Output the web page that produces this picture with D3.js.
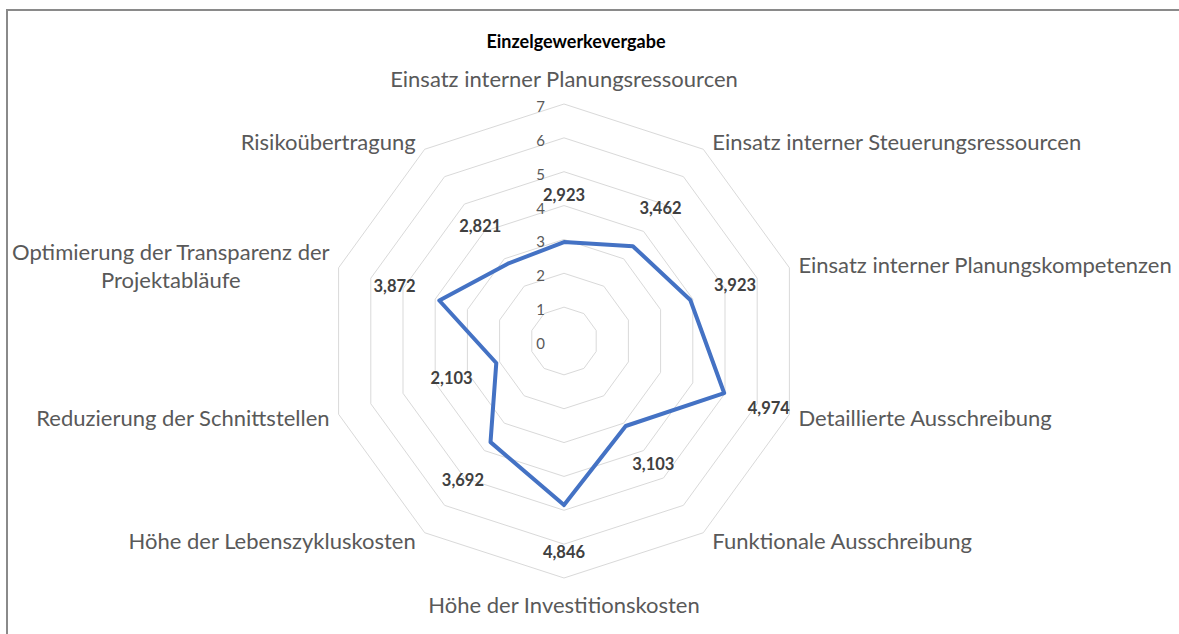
<!DOCTYPE html>
<html>
<head>
<meta charset="utf-8">
<script src="https://cdn.jsdelivr.net/npm/d3@7"></script>
<style>
  html, body { margin: 0; padding: 0; background: #fff; }
  svg { display: block; }
</style>
</head>
<body>
<div id="chart"></div>
<script>
let WIDTH = 1179
let HEIGHT = 634

// chart data
let title = 'Einzelgewerkevergabe'
let categories = [
    'Einsatz interner Planungsressourcen',
    'Einsatz interner Steuerungsressourcen',
    'Einsatz interner Planungskompetenzen',
    'Detaillierte Ausschreibung',
    'Funktionale Ausschreibung',
    'Höhe der Investitionskosten',
    'Höhe der Lebenszykluskosten',
    'Reduzierung der Schnittstellen',
    'Optimierung der Transparenz der Projektabläufe',
    'Risikoübertragung'
]
let values = [2.923, 3.462, 3.923, 4.974, 3.103, 4.846, 3.692, 2.103, 3.872, 2.821]
let ticks = [0, 1, 2, 3, 4, 5, 6, 7]

let FONT = 'Lato, "Open Sans", sans-serif'
let cx = 564
let cy = 341
let R = 237

let locale = d3.formatLocale({decimal: ',', thousands: '.', grouping: [3], currency: ['', '€']})
let fmt = locale.format('.3f')

let svg = d3.select('#chart')
    .append('svg')
    .attr('width', WIDTH)
    .attr('height', HEIGHT)

// chart frame (only top and left edge visible in the crop)
svg.append('rect')
    .attr('x', 7).attr('y', 10)
    .attr('width', WIDTH + 20).attr('height', HEIGHT + 20)
    .attr('fill', 'none')
    .attr('stroke', '#8a8a8a')
    .attr('stroke-width', 2)

svg.append('text')
    .attr('x', 576).attr('y', 41)
    .attr('text-anchor', 'middle')
    .attr('dominant-baseline', 'central')
    .style('font-family', FONT)
    .style('font-weight', 'bold')
    .style('font-size', '18px')
    .attr('fill', '#000')
    .text(title)

let n = categories.length
let angle = d3.scaleLinear().domain([0, n]).range([0, 2 * Math.PI])
let r = d3.scaleLinear().domain([0, d3.max(ticks)]).range([0, R])

let g = svg.append('g').attr('transform', `translate(${cx},${cy})`)

let radial = d3.lineRadial()
    .angle((d, i) => angle(i))
    .radius(d => r(d))
    .curve(d3.curveLinearClosed)

// grid rings
g.selectAll('.ring')
    .data(ticks.filter(t => t > 0))
    .join('path')
    .attr('class', 'ring')
    .attr('d', t => radial(categories.map(() => t)))
    .attr('fill', 'none')
    .attr('stroke', '#d9d9d9')
    .attr('stroke-width', 1)

// tick labels along the first axis
g.selectAll('.tick')
    .data(ticks)
    .join('text')
    .attr('class', 'tick')
    .attr('x', -19)
    .attr('y', t => -r(t) + 2)
    .attr('text-anchor', 'end')
    .attr('dominant-baseline', 'central')
    .style('font-family', FONT)
    .style('font-size', '15px')
    .attr('fill', '#595959')
    .text(t => t)

// series
g.append('path')
    .attr('d', radial(values))
    .attr('fill', 'none')
    .attr('stroke', '#4472C4')
    .attr('stroke-width', 4)
    .attr('stroke-linejoin', 'round')

// data labels
g.selectAll('.dlabel')
    .data(values)
    .join('text')
    .attr('class', 'dlabel')
    .attr('x', (d, i) => Math.sin(angle(i)) * (r(d) + 47))
    .attr('y', (d, i) => -Math.cos(angle(i)) * (r(d) + 47))
    .attr('text-anchor', 'middle')
    .attr('dominant-baseline', 'central')
    .style('font-family', FONT)
    .style('font-weight', 'bold')
    .style('font-size', '16.5px')
    .attr('fill', '#404040')
    .text(d => fmt(d))

// category labels
let LINE_H = 28
categories.forEach((name, i) => {
    let a = angle(i)
    let s = Math.sin(a), c = Math.cos(a)
    let x, y, anchor
    if (Math.abs(s) < 0.01) {
        x = 0
        y = -c * (R + 26)
        anchor = 'middle'
    } else {
        x = s * R + Math.sign(s) * 9
        y = -c * R - c * 10
        anchor = s > 0 ? 'start' : 'end'
    }
    let t = g.append('text')
        .attr('dominant-baseline', 'central')
        .style('font-family', FONT)
        .style('font-size', '22px')
        .attr('fill', '#595959')
        .attr('x', x).attr('y', y)
        .attr('text-anchor', anchor)
        .text(name)

    // room left before the frame, wrap if needed
    let room = anchor === 'end' ? cx + x - 8 : (anchor === 'start' ? WIDTH - (cx + x) - 2 : WIDTH)
    if (t.node().getComputedTextLength() <= room) return

    let words = name.split(' ')
    let lines = [], cur = []
    words.forEach(w => {
        t.text(cur.concat(w).join(' '))
        if (cur.length && t.node().getComputedTextLength() > room) {
            lines.push(cur.join(' '))
            cur = [w]
        } else {
            cur.push(w)
        }
    })
    lines.push(cur.join(' '))
    t.text(lines[0])
    let blockW = t.node().getComputedTextLength()
    t.text(null)
    let mid = anchor === 'end' ? x - blockW / 2 : x + blockW / 2
    t.attr('text-anchor', 'middle')
    lines.forEach((ln, k) => {
        t.append('tspan')
            .attr('x', mid)
            .attr('y', y + (k - (lines.length - 1) / 2) * LINE_H)
            .text(ln)
    })
})
</script>
</body>
</html>
